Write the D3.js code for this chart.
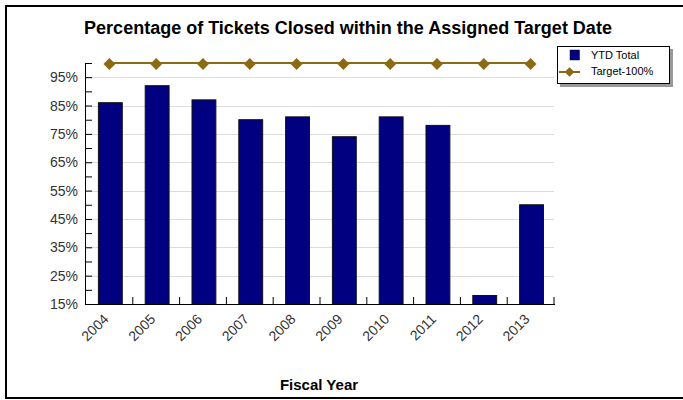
<!DOCTYPE html>
<html><head><meta charset="utf-8">
<script src="https://cdn.jsdelivr.net/npm/d3@7"></script>
<style>body{margin:0;background:#fff;}svg{display:block;font-family:"Liberation Sans",Arial,sans-serif;}</style>
</head><body><svg id="c" width="683" height="400"></svg>
<script>
const years = ["2004","2005","2006","2007","2008","2009","2010","2011","2012","2013"];
const ytdTotal = [86, 92, 87, 80, 81, 74, 81, 78, 18, 50];
const target = [100, 100, 100, 100, 100, 100, 100, 100, 100, 100];
const yTickValues = [15, 25, 35, 45, 55, 65, 75, 85, 95];
const seriesNames = ["YTD Total", "Target-100%"];
const titleText = "Percentage of Tickets Closed within the Assigned Target Date";
const xTitle = "Fiscal Year";

const svg = d3.select("#c");
const L = 86, R = 554, T = 63, B = 304;
const barColor = "#000080", lineColor = "#8c6a14";

// frame
svg.append("rect").attr("x",6).attr("y",6).attr("width",720).attr("height",392)
  .attr("fill","#fff").attr("stroke","#000").attr("stroke-width",2);

const x = d3.scaleBand().domain(years).range([L,R]).padding(0);
const y = d3.scaleLinear().domain([15,100]).range([B,T]);
const step = x.step();

// gridlines
svg.append("g").selectAll("line").data(yTickValues.filter(v=>v>15)).join("line")
  .attr("x1",L).attr("x2",R).attr("y1",d=>Math.round(y(d))+0.5).attr("y2",d=>Math.round(y(d))+0.5)
  .attr("stroke","#dcdcdc").attr("stroke-width",1);

// bars
svg.append("g").selectAll("rect").data(years).join("rect")
  .attr("x",(d)=>x(d)+step*0.265)
  .attr("width",step*0.51)
  .attr("y",(d,i)=>y(ytdTotal[i]))
  .attr("height",(d,i)=>B-y(ytdTotal[i]))
  .attr("fill",barColor).attr("stroke","#111").attr("stroke-width",1);

// y axis
const yAxis = d3.axisLeft(y).tickValues(d3.range(15,101,5)).tickSize(-6).tickPadding(10)
  .tickFormat(d=> yTickValues.includes(d) ? d+"%" : "");
const gy = svg.append("g").attr("transform",`translate(${L},0)`).call(yAxis);
gy.select(".domain").attr("stroke","#000").attr("d",`M-0.5,${T}V${B}`);
gy.selectAll(".tick line").attr("stroke","#000");
gy.selectAll("text").attr("font-size",14).attr("fill","#333").attr("x",-8);

// x axis
const gx = svg.append("g").attr("transform",`translate(0,${B})`);
gx.append("line").attr("x1",L-1).attr("x2",R+1).attr("y1",0.5).attr("y2",0.5).attr("stroke","#000");
gx.selectAll("line.t").data(years.slice(1).map(d=>x(d)).concat([R])).join("line")
  .attr("class","t").attr("x1",d=>d).attr("x2",d=>d).attr("y1",0).attr("y2",-7).attr("stroke","#000");
gx.selectAll("text").data(years).join("text")
  .attr("transform",d=>`translate(${x(d)+step/2},${16}) rotate(-45)`)
  .attr("text-anchor","end").attr("font-size",14).attr("fill","#333").text(d=>d);

// target line
const line = d3.line().x((d,i)=>x(years[i])+step/2).y(d=>y(d));
svg.append("path").datum(target).attr("d",line).attr("fill","none")
  .attr("stroke",lineColor).attr("stroke-width",2);
const diamond = d3.symbol().type(d3.symbolDiamond2).size(90);
svg.append("g").selectAll("path").data(target).join("path")
  .attr("transform",(d,i)=>`translate(${x(years[i])+step/2},${y(d)+1})`)
  .attr("d",diamond).attr("fill",lineColor);

// title
svg.append("text").attr("x",348).attr("y",34).attr("text-anchor","middle")
  .attr("font-size",18).attr("font-weight","bold").attr("fill","#000").text(titleText);
svg.append("text").attr("x",319).attr("y",390).attr("text-anchor","middle")
  .attr("font-size",15).attr("font-weight","bold").attr("fill","#000").text(xTitle);

// legend
const lg = svg.append("g");
lg.append("rect").attr("x",560).attr("y",49).attr("width",113).attr("height",38).attr("fill","#999");
lg.append("rect").attr("x",557.5).attr("y",46.5).attr("width",112).attr("height",37)
  .attr("fill","#fff").attr("stroke","#000").attr("stroke-width",1);
lg.append("rect").attr("x",570).attr("y",50).attr("width",9.5).attr("height",10).attr("fill",barColor).attr("stroke","#111").attr("stroke-width",0.5);
lg.append("line").attr("x1",559).attr("x2",580).attr("y1",72).attr("y2",72).attr("stroke",lineColor).attr("stroke-width",2);
lg.append("path").attr("transform","translate(569.5,72)").attr("d",d3.symbol().type(d3.symbolDiamond2).size(60)).attr("fill",lineColor);
lg.selectAll("text.l").data(seriesNames).join("text").attr("class","l")
  .attr("x",591).attr("y",(d,i)=>59+i*16).attr("font-size",11).attr("fill","#000").text(d=>d);
</script></body></html>
